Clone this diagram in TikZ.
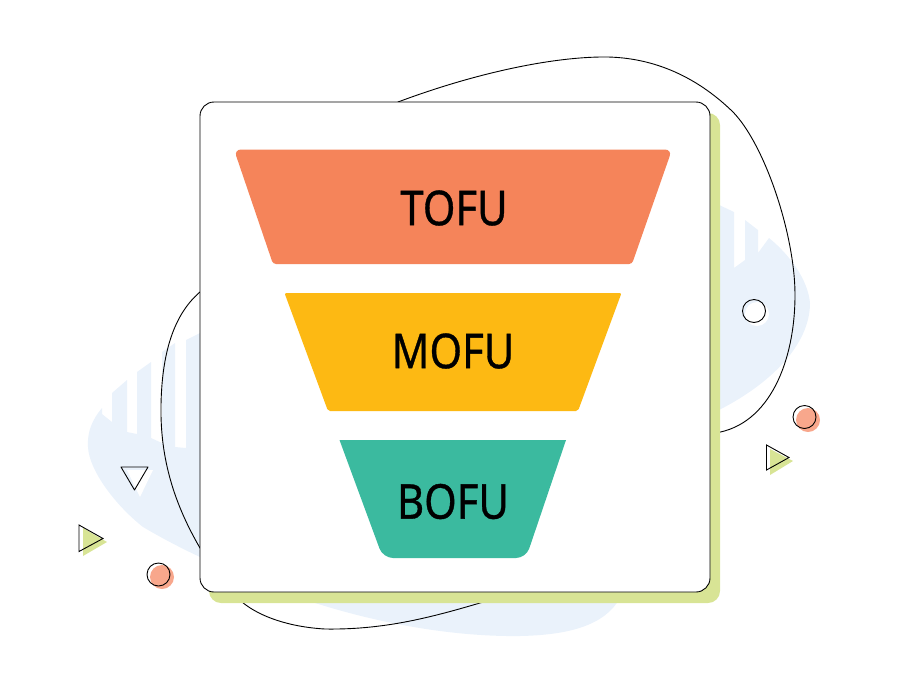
\documentclass[tikz,border=0pt]{standalone}
\usepackage{fontspec}
\setmainfont{Noto Sans}
\newfontfamily\levelfont[RawFeature={embolden=0.8}]{Noto Sans}
\definecolor{blobblue}{HTML}{EAF2FB}
\definecolor{shadowgreen}{HTML}{D8E495}
\definecolor{dotred}{HTML}{F8A78C}
\definecolor{tofucol}{HTML}{F5845A}
\definecolor{mofucol}{HTML}{FDB913}
\definecolor{bofucol}{HTML}{3BBA9F}
\usetikzlibrary{positioning}

\begin{document}
\begin{tikzpicture}[x=1pt,y=-1pt,
    outline/.style={draw=black,line width=0.9pt},
    level/.style={font=\levelfont\fontsize{48}{48}\selectfont,text=black,inner sep=0pt,xscale=0.87}]
  \useasboundingbox (0,0) rectangle (910,694);

  % pale background patch, left half
  \fill[blobblue] (200,333) -- (186,340) -- (186,448) -- (175,447) -- (175,343)
    -- (162,352) -- (162,443) -- (151,438) -- (151,362) -- (137,372) -- (137,434)
    -- (127,432) -- (127,380) -- (112,393) -- (112,422) -- (102,414) -- (102,408)
    .. controls (92,420) and (87,432) .. (88,447)
    .. controls (89,470) and (115,505) .. (143,527)
    .. controls (165,540) and (185,550) .. (200,557)
    -- (300,598)
    .. controls (370,622) and (450,637) .. (520,636)
    .. controls (570,635) and (605,625) .. (620,598) -- cycle;

  % pale background patch, right half
  \fill[blobblue] (715,203) -- (734,212) -- (734,268) -- (745,260) -- (745,220)
    -- (758,230) -- (758,253) -- (769,238)
    .. controls (790,255) and (808,280) .. (810,303)
    .. controls (810,345) and (770,385) .. (715,412) -- cycle;

  % thin closed curve behind the card
  \draw[outline] (398,102)
    .. controls (470,75) and (545,58) .. (600,57)
    .. controls (650,56) and (695,75) .. (733,112)
    .. controls (765,145) and (795,235) .. (795,295)
    .. controls (795,360) and (770,425) .. (715,433)
    -- (500,597)
    .. controls (440,615) and (390,630) .. (325,629)
    .. controls (290,627) and (260,617) .. (242,602)
    -- (200,548)
    .. controls (175,505) and (160,460) .. (161,405)
    .. controls (162,350) and (175,310) .. (205,288) -- cycle;

  % card and its shadow
  \fill[shadowgreen,rounded corners=12pt] (209,113) rectangle (720,603);
  \draw[outline,fill=white,rounded corners=14pt] (200,102) rectangle (710,592);

  % funnel levels
  \fill[tofucol,rounded corners=7pt] (234,149.5) -- (672,149.5) [rounded corners=3pt] -- (632,264) -- (273,264) [rounded corners=7pt] -- cycle;
  \fill[mofucol,rounded corners=2pt] (284.5,293) -- (621.5,293) -- (578,411) -- (328,411) -- cycle;
  \fill[bofucol] (339.5,440) -- (566,440) [rounded corners=10pt] -- (526,558) -- (383,558) [sharp corners] -- cycle;

  % labels
  \node[level] (tofu) at (454,208) {TOFU};
  \node[level] (mofu) at (453,351) {MOFU};
  \node[level] (bofu) at (453,501.5) {BOFU};

  % small marks, left
  \fill[white] (127,470) -- (153,470) -- (140,497) -- cycle;
  \draw[outline,line join=round] (121,467) -- (148,467) -- (134.5,490) -- cycle;
  \fill[shadowgreen] (83,528) -- (107,542) -- (83,556) -- cycle;
  \draw[outline] (79,525) -- (103,538.5) -- (79,551.5) -- cycle;
  \fill[dotred] (162,577) circle (12pt);
  \draw[outline] (158.5,574.5) circle (11.5pt);

  % small marks, right
  \fill[white] (757,314) circle (12pt);
  \draw[outline] (754,311) circle (11.5pt);
  \fill[dotred] (808,420) circle (12pt);
  \draw[outline] (804.5,417) circle (11.5pt);
  \fill[shadowgreen] (770,449) -- (793,461) -- (770,475) -- cycle;
  \draw[outline] (766.5,445) -- (789,457.5) -- (766.5,470) -- cycle;
\end{tikzpicture}
\end{document}
